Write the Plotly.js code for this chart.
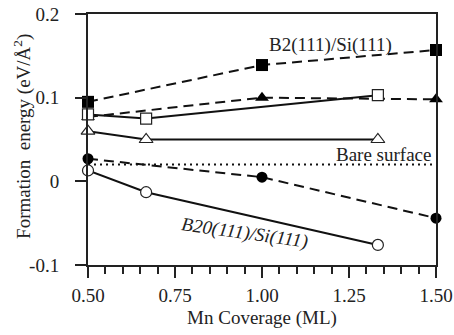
<!DOCTYPE html>
<html>
<head>
<meta charset="utf-8">
<script src="https://cdn.plot.ly/plotly-3.0.1.min.js"></script>
<style>html,body{margin:0;padding:0;background:#fff;}#chart{width:454px;height:335px;}</style>
</head>
<body>
<div id="chart"></div>
<script>
// Mn coverage (ML)
const coverageA = [0.5, 1.0, 1.5];
const coverageB = [0.5, 0.667, 1.333];
const bareX = [0.5, 1.5];
// Formation energy (eV/Å^2)
const filledSquare = [0.095, 0.139, 0.157];
const openSquare = [0.080, 0.075, 0.103];
const filledTriangle = [0.077, 0.100, 0.098];
const openTriangle = [0.060, 0.050, 0.050];
const bareSurface = [0.020, 0.020];
const filledCircle = [0.027, 0.005, -0.044];
const openCircle = [0.013, -0.013, -0.076];
const xTickVals = [0.5, 0.75, 1.0, 1.25, 1.5];
const xTickText = ["0.50", "0.75", "1.00", "1.25", "1.50"];
const yTickVals = [-0.1, 0, 0.1, 0.2];
const yTickText = ["-0.1", "0", "0.1", "0.2"];

const FONT = "'Liberation Serif', 'Times New Roman', serif";
const TF = {family: FONT, size: 19, color: "#222"};
const dashed = {color: "#111", width: 2, dash: "10px,6px"};
const solid = {color: "#111", width: 2};

function tr(x, y, line, symbol, filled, size) {
  return {
    x: x, y: y, type: "scatter", mode: "lines+markers", cliponaxis: false,
    line: line,
    marker: {symbol: symbol, size: size, color: filled ? "#000" : "#fff",
             line: {color: "#222", width: filled ? 0 : 1.2}},
    showlegend: false, hoverinfo: "skip"
  };
}

const data = [
  {x: bareX, y: bareSurface, type: "scatter", mode: "lines", cliponaxis: false,
   line: {color: "#111", width: 2, dash: "2px,4px"}, showlegend: false, hoverinfo: "skip"},
  tr(coverageA, filledSquare, dashed, "square", true, 12),
  tr(coverageA, filledTriangle, dashed, "triangle-up", true, 12),
  tr(coverageA, filledCircle, dashed, "circle", true, 11),
  tr(coverageB, openSquare, solid, "square", false, 11),
  tr(coverageB, openTriangle, solid, "triangle-up", false, 12),
  tr(coverageB, openCircle, solid, "circle", false, 11)
];

const layout = {
  width: 454, height: 335,
  margin: {l: 88, r: 18, t: 14, b: 70},
  paper_bgcolor: "#fff", plot_bgcolor: "#fff",
  font: TF,
  xaxis: {
    range: [0.5, 1.5], tickvals: xTickVals, ticktext: xTickText, tickfont: TF,
    ticks: "outside", ticklen: 11, tickwidth: 2, tickcolor: "#222",
    minor: {dtick: 0.05, ticks: "outside", ticklen: 7, tickwidth: 2, tickcolor: "#222", showgrid: false},
    showgrid: false, zeroline: false, showline: true, linewidth: 2, linecolor: "#222", mirror: true,
    ticklabelstandoff: 1,
    title: {text: "Mn Coverage (ML)", font: TF, standoff: 6},
    automargin: false
  },
  yaxis: {
    range: [-0.1, 0.2], tickvals: yTickVals, ticktext: yTickText, tickfont: TF,
    ticks: "outside", ticklen: 11, tickwidth: 2, tickcolor: "#222",
    showgrid: false, zeroline: false, showline: true, linewidth: 2, linecolor: "#222", mirror: true,
    ticklabelstandoff: 12,
    automargin: false
  },
  annotations: [
    {x: -0.187, y: 0.514, xref: "paper", yref: "paper", text: "Formation  energy (eV/Å<sup>2</sup>)",
     textangle: -90, showarrow: false, font: TF, xanchor: "center", yanchor: "middle"},
    {x: 1.198, y: 0.163, xref: "x", yref: "y", text: "B2(111)/Si(111)", showarrow: false, font: TF},
    {x: 1.349, y: 0.0323, xref: "x", yref: "y", text: "Bare surface", showarrow: false, font: TF},
    {x: 0.951, y: -0.062, xref: "x", yref: "y", text: "<i>B20(111)/Si(111)</i>", showarrow: false,
     textangle: 8, font: TF}
  ]
};

Plotly.newPlot("chart", data, layout, {displayModeBar: false, staticPlot: true});
</script>
</body>
</html>
